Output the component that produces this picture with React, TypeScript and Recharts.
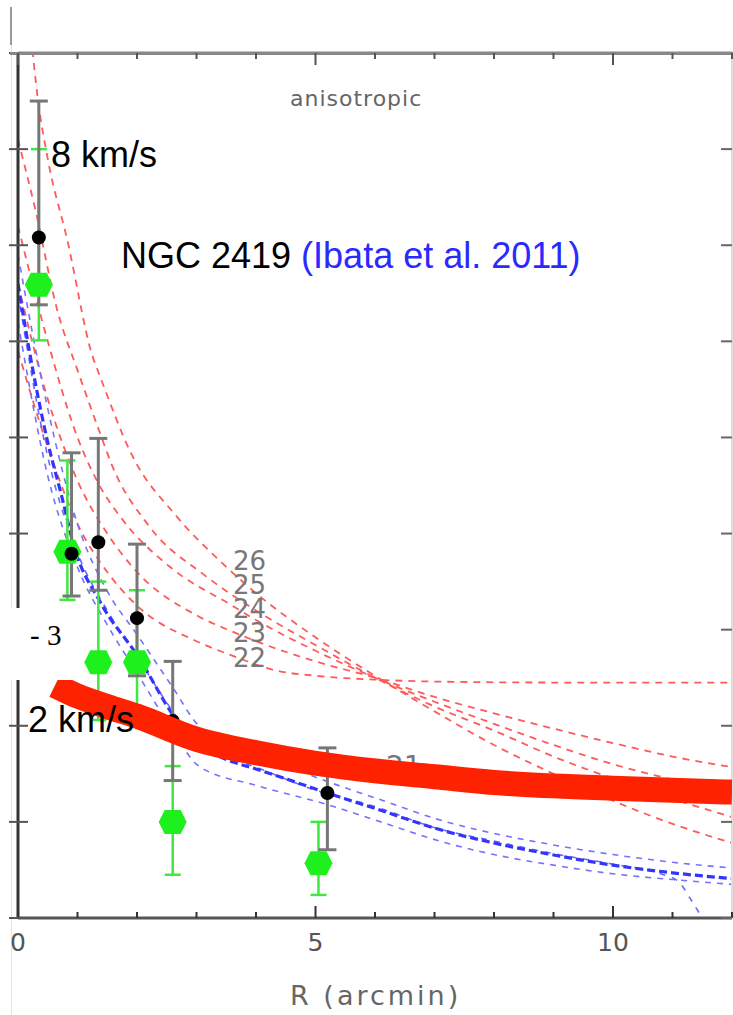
import React from 'react';
import { ComposedChart, Line, XAxis, YAxis, ErrorBar } from 'recharts';

const rTicks = [0, 1, 2, 3, 4, 5, 6, 7, 8, 9, 10, 11, 12];
const vTicks = [0, 1, 2, 3, 4, 5, 6, 7, 8, 9];
const rTickLabels = [0, 5, 10];

// Ibata et al. 2011 (black) and green data points
const blackR = [0.35, 0.9, 1.35, 2.0, 2.6, 5.2];
const blackV = [7.08, 3.79, 3.91, 3.12, 2.05, 1.3];
const blackErrLow = [0.7, 0.44, 0.5, 0.6, 0.62, 0.59];
const blackErrHigh = [1.42, 1.05, 1.08, 0.77, 0.62, 0.47];

const greenR = [0.35, 0.83, 1.35, 2.0, 2.6, 5.05];
const greenV = [6.59, 3.81, 2.66, 2.66, 1.0, 0.57];
const greenErrLow = [0.58, 0.5, 0.6, 0.6, 0.55, 0.33];
const greenErrHigh = [1.41, 0.95, 0.84, 0.75, 0.58, 0.43];

// red dashed model curves (labels 22-26)
const red26R = [0.2, 0.33, 0.5, 0.83, 1.25, 1.37, 1.92, 2.65, 3.42, 4, 5, 6, 7, 8, 9, 10, 11, 12];
const red26V = [9.3, 8.54, 7.9, 7.05, 5.85, 5.65, 4.81, 4.19, 3.7, 3.38, 2.92, 2.52, 2.15, 1.8, 1.5, 1.22, 0.98, 0.78];
const red25R = [0, 0.28, 0.67, 1, 1.37, 1.58, 2.2, 3.15, 4, 5, 6, 7, 8, 9, 10, 11, 12];
const red25V = [8.1, 7.4, 6.3, 5.7, 5.06, 4.71, 4.08, 3.56, 3.2, 2.84, 2.5, 2.2, 1.95, 1.68, 1.45, 1.24, 1.05];
const red24R = [0, 0.5, 1, 1.37, 1.75, 2.54, 3.6, 4, 5, 6, 7, 8, 9, 10, 11, 12];
const red24V = [7.2, 6.0, 5.0, 4.5, 4.15, 3.66, 3.25, 3.1, 2.78, 2.5, 2.25, 2.02, 1.8, 1.6, 1.44, 1.3];
const red23R = [0, 0.5, 1, 1.5, 2, 3, 3.6, 4, 5, 6, 7, 8, 9, 10, 11, 12];
const red23V = [6.6, 5.4, 4.55, 4.0, 3.6, 3.15, 2.98, 2.88, 2.67, 2.5, 2.3, 2.13, 1.97, 1.82, 1.68, 1.57];
const red22R = [0, 0.5, 1, 1.5, 2, 3, 3.6, 4.3, 5, 6, 7, 9, 12];
const red22V = [5.9, 4.9, 4.1, 3.6, 3.25, 2.88, 2.73, 2.58, 2.52, 2.48, 2.46, 2.45, 2.45];

// blue dashed model bundle
const blueMidR = [0, 0.25, 0.5, 0.73, 0.95, 1.37, 2.04, 2.62, 3.04, 3.5, 4, 4.54, 5.2, 6, 7.2, 8, 8.88, 10, 11, 12];
const blueMidV = [6.6, 5.7, 4.95, 4.4, 3.85, 3.3, 2.7, 2.1, 1.8, 1.65, 1.55, 1.44, 1.3, 1.14, 0.9, 0.78, 0.67, 0.55, 0.47, 0.41];
const blueUpR = [0, 0.5, 1, 1.5, 2, 2.6, 3.04, 4, 5.2, 6, 7.2, 8, 9, 10, 11, 12];
const blueUpV = [6.9, 5.3, 4.1, 3.4, 2.95, 2.4, 2.0, 1.72, 1.42, 1.25, 1.0, 0.88, 0.76, 0.66, 0.58, 0.52];
const blueLowR = [0, 0.5, 1, 1.5, 2, 2.6, 3.04, 4, 5.2, 6, 7.2, 8, 9, 10, 11, 12];
const blueLowV = [6.2, 4.6, 3.65, 3.05, 2.55, 1.95, 1.58, 1.38, 1.18, 1.02, 0.78, 0.66, 0.55, 0.46, 0.4, 0.35];
const blueDropR = [0, 0.5, 1, 1.5, 2, 2.6, 3, 4, 5, 6, 7, 8, 9, 10, 10.8, 11.1, 11.3, 11.5];
const blueDropV = [6.5, 4.8, 3.8, 3.2, 2.72, 2.15, 1.82, 1.57, 1.33, 1.16, 0.94, 0.8, 0.67, 0.56, 0.46, 0.38, 0.2, 0.0];

// thick red band
const bandR = [0.62, 1, 1.5, 2, 3, 4, 5, 6, 7, 8, 10, 12];
const bandV = [2.42, 2.31, 2.2, 2.1, 1.86, 1.72, 1.61, 1.53, 1.47, 1.41, 1.35, 1.31];

const pts = (xs: number[], ys: number[]) => xs.map((r, i) => ({ r, v: ys[i] }));
const errPts = (xs: number[], ys: number[], lo: number[], hi: number[]) =>
  xs.map((r, i) => ({ r, v: ys[i], e: [lo[i], hi[i]] }));

const blackData = errPts(blackR, blackV, blackErrLow, blackErrHigh);
const greenData = errPts(greenR, greenV, greenErrLow, greenErrHigh);

const redCurves = [
  pts(red26R, red26V),
  pts(red25R, red25V),
  pts(red24R, red24V),
  pts(red23R, red23V),
  pts(red22R, red22V),
];

const BottomTick = (p: any) => {
  const { x, y, payload } = p;
  const major = rTickLabels.includes(payload.value);
  return (
    <g>
      <line x1={x} x2={x} y1={y} y2={y - (major ? 12 : 6)} stroke="#333" strokeWidth={2} />
      {major && (
        <text x={x} y={y + 33} textAnchor="middle" fontFamily="DejaVu Sans" fontSize={25} fill="#555">
          {payload.value}
        </text>
      )}
    </g>
  );
};
// top frame: bottom axis of a thin strip chart whose axis line lies on the plot's top edge; ticks point down
const TopTick = (p: any) => {
  const { x, y, payload } = p;
  const major = rTickLabels.includes(payload.value);
  return <line x1={x} x2={x} y1={y} y2={y + (major ? 12 : 6)} stroke="#555" strokeWidth={2} />;
};
const LeftTick = (p: any) => {
  const { x, y } = p;
  return <line x1={x - 9} x2={x + 10} y1={y} y2={y} stroke="#555" strokeWidth={2} />;
};
const RightTick = (p: any) => {
  const { x, y } = p;
  return <line x1={x} x2={x - 11} y1={y} y2={y} stroke="#666" strokeWidth={2} />;
};

const GreenHex = (p: any) => {
  const { cx, cy, index } = p;
  if (cx == null || cy == null) return <g key={'g' + index} />;
  const d = `${cx - 14},${cy} ${cx - 8},${cy - 12} ${cx + 8},${cy - 12} ${cx + 14},${cy} ${cx + 8},${cy + 12} ${cx - 8},${cy + 12}`;
  return <polygon key={'g' + index} points={d} fill="#1ef01e" />;
};
const BlackDot = (p: any) => {
  const { cx, cy, index } = p;
  if (cx == null || cy == null) return <g key={'b' + index} />;
  return <circle key={'b' + index} cx={cx} cy={cy} r={7} fill="#000" />;
};

const labelFont = "'Liberation Sans', Arial, sans-serif";
const thinFont = "'DejaVu Sans', sans-serif";

export default function App() {
  return (
    <div style={{ position: 'absolute', left: 0, top: 0, width: 733, height: 1015, background: '#fff', overflow: 'hidden' }}>
      <div style={{ position: 'absolute', left: 10, top: 7, width: 2, height: 38, background: '#999' }} />
      <div style={{ position: 'absolute', left: 11, top: 45, width: 1, height: 970, background: '#e4e4e4' }} />
      <svg width={733} height={1015} style={{ position: 'absolute', left: 0, top: 0 }}>
        <text x={386} y={776} fontFamily={thinFont} fontSize={28} fill="#777">21</text>
      </svg>
      <div style={{ position: 'absolute', left: 0, top: 0 }}>
        <ComposedChart width={733} height={1015} margin={{ top: 53, right: 0, bottom: 57, left: 8 }}>
          <XAxis
            xAxisId={0}
            type="number"
            dataKey="r"
            domain={[0, 12]}
            ticks={rTicks}
            allowDataOverflow
            height={40}
            tickSize={0}
            tickMargin={0}
            tickLine={false}
            tick={(p: any) => <BottomTick {...p} />}
            axisLine={{ stroke: '#555', strokeWidth: 3 }}
            interval={0}
          />
          <YAxis
            yAxisId={0}
            type="number"
            domain={[0, 9]}
            ticks={vTicks}
            allowDataOverflow
            width={10}
            tickSize={0}
            tickMargin={0}
            tickLine={false}
            tick={(p: any) => <LeftTick {...p} />}
            axisLine={{ stroke: '#333', strokeWidth: 3 }}
            interval={0}
          />
          <YAxis
            yAxisId="right"
            orientation="right"
            type="number"
            domain={[0, 9]}
            ticks={vTicks}
            allowDataOverflow
            width={1}
            tickSize={0}
            tickMargin={0}
            tickLine={false}
            tick={(p: any) => <RightTick {...p} />}
            axisLine={{ stroke: '#ddd', strokeWidth: 2 }}
            interval={0}
          />
          {redCurves.map((d, i) => (
            <Line
              key={'red' + i}
              data={d}
              dataKey="v"
              type="monotone"
              stroke="#ff5a5a"
              strokeWidth={1.8}
              strokeDasharray="7 6"
              dot={false}
              activeDot={false}
              isAnimationActive={false}
            />
          ))}
          <Line data={pts(blueUpR, blueUpV)} dataKey="v" type="monotone" stroke="#7373ff" strokeWidth={1.6} strokeDasharray="6 6" dot={false} activeDot={false} isAnimationActive={false} />
          <Line data={pts(blueLowR, blueLowV)} dataKey="v" type="monotone" stroke="#7373ff" strokeWidth={1.6} strokeDasharray="6 6" dot={false} activeDot={false} isAnimationActive={false} />
          <Line data={pts(blueDropR, blueDropV)} dataKey="v" type="monotone" stroke="#6a6aff" strokeWidth={1.6} strokeDasharray="6 7" dot={false} activeDot={false} isAnimationActive={false} />
          <Line data={pts(blueMidR, blueMidV)} dataKey="v" type="monotone" stroke="#3434ff" strokeWidth={3.2} strokeDasharray="8 4" dot={false} activeDot={false} isAnimationActive={false} />
          <Line data={greenData} dataKey="v" stroke="none" dot={(p: any) => GreenHex(p)} activeDot={false} isAnimationActive={false}>
            <ErrorBar dataKey="e" direction="y" width={8} stroke="#3ee83e" strokeWidth={2.5} />
          </Line>
          <Line data={blackData} dataKey="v" stroke="none" dot={(p: any) => BlackDot(p)} activeDot={false} isAnimationActive={false}>
            <ErrorBar dataKey="e" direction="y" width={9} stroke="#777" strokeWidth={3} />
          </Line>
        </ComposedChart>
      </div>
      <div style={{ position: 'absolute', left: 0, top: 0 }}>
        <ComposedChart width={733} height={1015} margin={{ top: 53, right: 1, bottom: 97, left: 18 }}>
          <XAxis xAxisId={0} type="number" dataKey="r" domain={[0, 12]} allowDataOverflow hide />
          <YAxis yAxisId={0} type="number" domain={[0, 9]} allowDataOverflow hide />
          <Line data={pts(bandR, bandV)} dataKey="v" type="monotone" stroke="#ff2200" strokeWidth={25} strokeLinecap="butt" dot={false} activeDot={false} isAnimationActive={false} />
        </ComposedChart>
      </div>
      <svg width={733} height={1015} style={{ position: 'absolute', left: 0, top: 0, pointerEvents: 'none' }}>
        <line x1={10} x2={733} y1={53.5} y2={53.5} stroke="#888" strokeWidth={3} />
        <text x={290} y={106} fontFamily={thinFont} fontSize={22} letterSpacing={1} fill="#666">anisotropic</text>
        <text x={51} y={167} fontFamily={labelFont} fontSize={36} fill="#000">8 km/s</text>
        <text x={121} y={268} fontFamily={labelFont} fontSize={36} fill="#000">
          NGC 2419 <tspan fill="#2a2aff">(Ibata et al. 2011)</tspan>
        </text>
        <text x={233} y={570} fontFamily={thinFont} fontSize={26} fill="#777">26</text>
        <text x={233} y={594} fontFamily={thinFont} fontSize={26} fill="#777">25</text>
        <text x={233} y={618} fontFamily={thinFont} fontSize={26} fill="#777">24</text>
        <text x={233} y={642} fontFamily={thinFont} fontSize={26} fill="#777">23</text>
        <text x={233} y={667} fontFamily={thinFont} fontSize={26} fill="#777">22</text>
        <rect x={0} y={608} width={82} height={72} fill="#fff" />
        <text x={30} y={645} fontFamily="'Liberation Serif', 'Times New Roman', serif" fontSize={29} fill="#000">- 3</text>
        <text x={28} y={732} fontFamily={labelFont} fontSize={36} fill="#000">2 km/s</text>
        <text x={290} y={1005} fontFamily={thinFont} fontSize={27} letterSpacing={3} fill="#666">R (arcmin)</text>
      </svg>
      <div style={{ position: 'absolute', left: 0, top: 0 }}>
        <ComposedChart width={733} height={70} margin={{ top: 0, right: 1, bottom: 0, left: 18 }}>
          <XAxis
            xAxisId={0}
            type="number"
            dataKey="r"
            domain={[0, 12]}
            ticks={rTicks}
            allowDataOverflow
            height={17}
            tickSize={0}
            tickMargin={0}
            tickLine={false}
            tick={(p: any) => <TopTick {...p} />}
            axisLine={{ stroke: '#888', strokeWidth: 3 }}
            interval={0}
          />
          <YAxis yAxisId={0} type="number" domain={[0, 9]} allowDataOverflow hide />
          <Line data={pts(bandR, bandV)} dataKey="v" stroke="none" dot={false} activeDot={false} isAnimationActive={false} />
        </ComposedChart>
      </div>
    </div>
  );
}
